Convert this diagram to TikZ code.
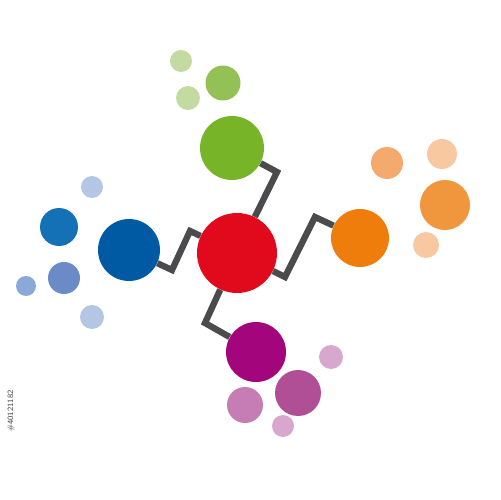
\documentclass[tikz,border=0pt]{standalone}
\usetikzlibrary{positioning}

\definecolor{hubred}{HTML}{E10A1D}
\definecolor{linkgray}{HTML}{4B4B4D}
\definecolor{greenA}{HTML}{78B428}
\definecolor{greenB}{HTML}{93C155}
\definecolor{greenC}{HTML}{C3DBA0}
\definecolor{orangeA}{HTML}{EF7D0B}
\definecolor{orangeB}{HTML}{F0963D}
\definecolor{orangeC}{HTML}{F3AA6C}
\definecolor{orangeD}{HTML}{F8C8A0}
\definecolor{blueA}{HTML}{0059A3}
\definecolor{blueB}{HTML}{1571B6}
\definecolor{blueC}{HTML}{6A8BC6}
\definecolor{blueD}{HTML}{8AA8D8}
\definecolor{blueE}{HTML}{B3C7E5}
\definecolor{purpleA}{HTML}{A2057C}
\definecolor{purpleB}{HTML}{B04E96}
\definecolor{purpleC}{HTML}{C67CB4}
\definecolor{purpleD}{HTML}{D7A7CE}

\begin{document}
\begin{tikzpicture}[
    x=0.02cm, y=-0.02cm,
    bubble/.style={circle,inner sep=0pt,minimum size=#1*0.04cm},
    link/.style={draw=linkgray,line width=3.6pt,line join=miter},
    stamp/.style={font=\sffamily\fontsize{4.6}{5}\selectfont,text=black!75,rotate=90}
    ]
    \fill[white] (0,0) rectangle (500,500);
    \useasboundingbox (0,0) rectangle (500,500);

    % main circles
    \node (hub) [bubble=40,fill=hubred] at (237,253) {};
    \node (green) [bubble=32,fill=greenA] at (232,148) {};
    \node (orange) [bubble=29,fill=orangeA] at (360,238) {};
    \node (blue) [bubble=31,fill=blueA] at (129,250) {};
    \node (purple) [bubble=30,fill=purpleA] at (256,352) {};

    % green group
    \node (g1) [bubble=11,fill=greenC] at (181,61) {};
    \node (g2) [bubble=12,fill=greenC] at (188,98) {};
    \node (g3) [bubble=17.5,fill=greenB] at (223,83) {};

    % orange group
    \node (o1) [bubble=16,fill=orangeC] at (387,163) {};
    \node (o2) [bubble=15,fill=orangeD] at (442,154) {};
    \node (o3) [bubble=25,fill=orangeB] at (445,205) {};
    \node (o4) [bubble=13,fill=orangeD] at (426,245) {};

    % blue group
    \node (b1) [bubble=11,fill=blueE] at (92,187) {};
    \node (b2) [bubble=19,fill=blueB] at (59,227) {};
    \node (b3) [bubble=16,fill=blueC] at (64,278) {};
    \node (b4) [bubble=10,fill=blueD] at (26,286) {};
    \node (b5) [bubble=12,fill=blueE] at (92,317) {};

    % purple group
    \node (p1) [bubble=12,fill=purpleD] at (331,357) {};
    \node (p2) [bubble=23,fill=purpleB] at (298,393) {};
    \node (p3) [bubble=18,fill=purpleC] at (245,405) {};
    \node (p4) [bubble=11,fill=purpleD] at (283,426) {};

    % links
    \draw[link] (green.-28) -- (277,172) -- (hub);
    \draw[link] (hub) -- (285,277) -- (315,217) -- (orange);
    \draw[link] (hub) -- (190,231) -- (172,270) -- (blue);
    \draw[link] (hub) -- (205,323) -- (purple);

    \node (id) [stamp] at (11,411) {\#40121182};

  \end{tikzpicture}
\end{document}
